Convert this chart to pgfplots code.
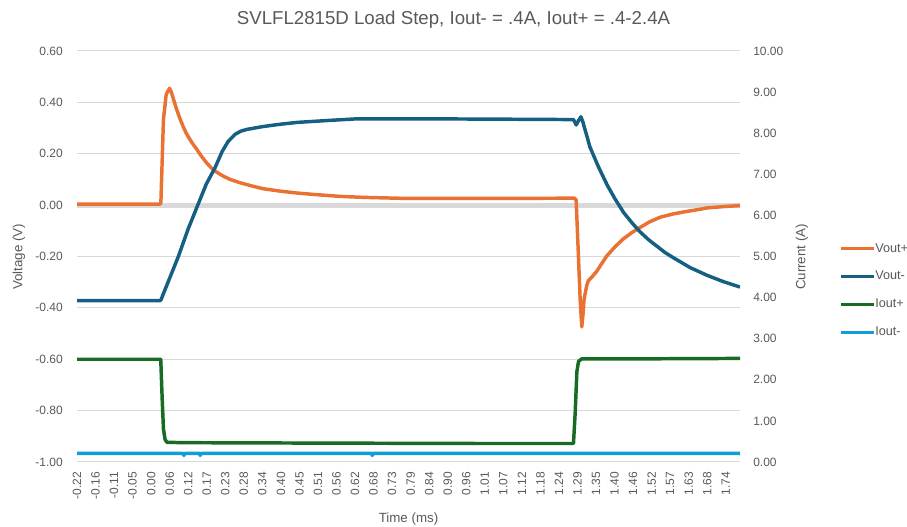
\documentclass[border=0pt]{standalone}
\usepackage{fontspec}
\setmainfont{Liberation Sans}
\usepackage{pgfplots}
\pgfplotsset{compat=1.18}
\definecolor{vplus}{HTML}{E97132}
\definecolor{vminus}{HTML}{156082}
\definecolor{iplus}{HTML}{196B24}
\definecolor{iminus}{HTML}{0F9ED5}
\definecolor{txt}{HTML}{595959}
\definecolor{gridc}{HTML}{D9D9D9}
\begin{document}
\begin{tikzpicture}[x=0.75pt,y=0.75pt]
\useasboundingbox (0,0) rectangle (907,527);
\pgfplotsset{
  base/.style={
    at={(57.75pt,48.75pt)}, anchor=south west,
    width=497.25pt, height=308.25pt, scale only axis,
    xmin=-0.22, xmax=1.783,
    axis line style={draw=none},
    major tick length=0pt,
    tick label style={font=\fontsize{9}{10}\selectfont, text=txt},
  }
}
\begin{axis}[base,
  ymin=-1, ymax=0.6,
  ytick={-1,-0.8,-0.6,-0.4,-0.2,0,0.2,0.4,0.6},
  yticklabels={-1.00,-0.80,-0.60,-0.40,-0.20,0.00,0.20,0.40,0.60},
  yticklabel style={anchor=east, inner sep=0pt, xshift=-10.5pt},
  ymajorgrids, grid style={gridc, line width=0.75pt},
  xtick={-0.22,-0.164,-0.108,-0.052,0.004,0.06,0.116,0.172,0.228,0.284,0.34,0.396,0.452,0.508,0.564,0.62,0.676,0.732,0.788,0.844,0.9,0.956,1.012,1.068,1.124,1.18,1.236,1.292,1.348,1.404,1.46,1.516,1.572,1.628,1.684,1.74},
  xticklabels={-0.22,-0.16,-0.11,-0.05,0.00,0.06,0.12,0.17,0.23,0.28,0.34,0.40,0.45,0.51,0.56,0.62,0.68,0.73,0.79,0.84,0.90,0.96,1.01,1.07,1.12,1.18,1.24,1.29,1.35,1.40,1.46,1.52,1.57,1.63,1.68,1.74},
  xticklabel style={inner sep=0pt, yshift=-7.3pt, rotate=90, anchor=east},
]
\addplot[gridc, line width=3.75pt, forget plot] coordinates {(-0.22,0) (1.783,0)};
\addplot[vplus, line width=2.6pt, line join=round] coordinates {
(-0.22,0.004) (0.031,0.004) (0.0334,0.01) (0.0412,0.334) (0.0494,0.43) (0.0594,0.455)
(0.065,0.44) (0.072,0.41) (0.08,0.377) (0.09,0.34) (0.10,0.308) (0.11,0.28)
(0.12,0.258) (0.13,0.238) (0.142,0.217) (0.155,0.192) (0.17,0.167) (0.185,0.146)
(0.20,0.13) (0.22,0.114) (0.243,0.100) (0.273,0.087) (0.31,0.074)
(0.342,0.064) (0.39,0.055) (0.445,0.047) (0.5,0.041) (0.575,0.034) (0.65,0.030)
(0.777,0.026) (1.0,0.026) (1.283,0.027) (1.288,0.02) (1.294,-0.17) (1.300,-0.365)
(1.305,-0.474) (1.309,-0.42) (1.312,-0.365) (1.320,-0.313) (1.3244,-0.295) (1.330,-0.287)
(1.336,-0.279) (1.35,-0.258) (1.365,-0.228) (1.381,-0.197) (1.405,-0.163) (1.430,-0.132)
(1.455,-0.108) (1.481,-0.087) (1.51,-0.065) (1.542,-0.047) (1.582,-0.034) (1.62,-0.025)
(1.663,-0.016) (1.683,-0.011) (1.74,-0.005) (1.783,-0.002)
};
\addplot[vminus, line width=2.6pt, line join=round] coordinates {
(-0.22,-0.372) (0.031,-0.372) (0.034,-0.368) (0.041,-0.345) (0.0856,-0.202) (0.1158,-0.093)
(0.1461,0.004) (0.1703,0.081) (0.1975,0.147) (0.2186,0.209) (0.2367,0.248) (0.258,0.276)
(0.275,0.288) (0.294,0.295) (0.3425,0.306) (0.395,0.315) (0.445,0.322) (0.545,0.330)
(0.627,0.336) (0.777,0.336) (1.0,0.335) (1.28,0.333) (1.2881,0.312) (1.294,0.326)
(1.3023,0.344) (1.308,0.325) (1.33,0.225) (1.355,0.15) (1.381,0.08) (1.405,0.025)
(1.431,-0.028) (1.456,-0.068) (1.481,-0.104) (1.507,-0.135) (1.532,-0.16) (1.557,-0.185)
(1.582,-0.205) (1.632,-0.243) (1.683,-0.273) (1.733,-0.298) (1.783,-0.319)
};
\end{axis}
\begin{axis}[base,
  ymin=0, ymax=10,
  xtick=\empty,
  ytick={0,1,2,3,4,5,6,7,8,9,10},
  yticklabels={0.00,1.00,2.00,3.00,4.00,5.00,6.00,7.00,8.00,9.00,10.00},
  yticklabel pos=right,
  yticklabel style={anchor=west, inner sep=0pt, xshift=9.75pt},
  legend image code/.code={\draw[#1, line width=2.25pt] (0pt,0pt) -- (24.75pt,0pt);},
  legend cell align=left,
  legend style={at={(1.1493,0.4173)}, anchor=west, draw=none, fill=none, inner sep=0pt,
    font=\fontsize{9.5}{10}\selectfont, text=txt, row sep=11.8pt,
    nodes={inner sep=0pt, text height=7pt, text depth=2pt}},
]
\addlegendimage{vplus}
\addlegendentry{Vout+}
\addlegendimage{vminus}
\addlegendentry{Vout-}
\addplot[iplus, line width=2.6pt, line join=round] coordinates {
(-0.22,2.50) (0.033,2.50) (0.0375,1.5) (0.0412,0.8) (0.046,0.55) (0.0515,0.48)
(0.1,0.47) (0.5,0.46) (1.0,0.45) (1.2799,0.45) (1.2851,1.2) (1.2902,2.2)
(1.2953,2.45) (1.305,2.51) (1.5,2.51) (1.783,2.52)
};
\addlegendentry{Iout+}
\addplot[iminus, line width=2.6pt, line join=round] coordinates {
(-0.22,0.21) (0.10,0.21) (0.103,0.16) (0.106,0.21) (0.15,0.21) (0.152,0.16) (0.155,0.21)
(0.67,0.21) (0.672,0.16) (0.675,0.21) (1.783,0.21)
};
\addlegendentry{Iout-}
\end{axis}
\node[font=\fontsize{14}{16}\selectfont, text=txt, anchor=base] at (453.5,502) {SVLFL2815D Load Step, Iout- = .4A, Iout+ = .4-2.4A};
\node[font=\fontsize{10}{12}\selectfont, text=txt, anchor=base] at (408.5,4) {Time (ms)};
\node[font=\fontsize{10}{12}\selectfont, text=txt, rotate=90] at (19,270) {Voltage (V)};
\node[font=\fontsize{10}{12}\selectfont, text=txt, rotate=90] at (802,270) {Current (A)};
\end{tikzpicture}
\end{document}
